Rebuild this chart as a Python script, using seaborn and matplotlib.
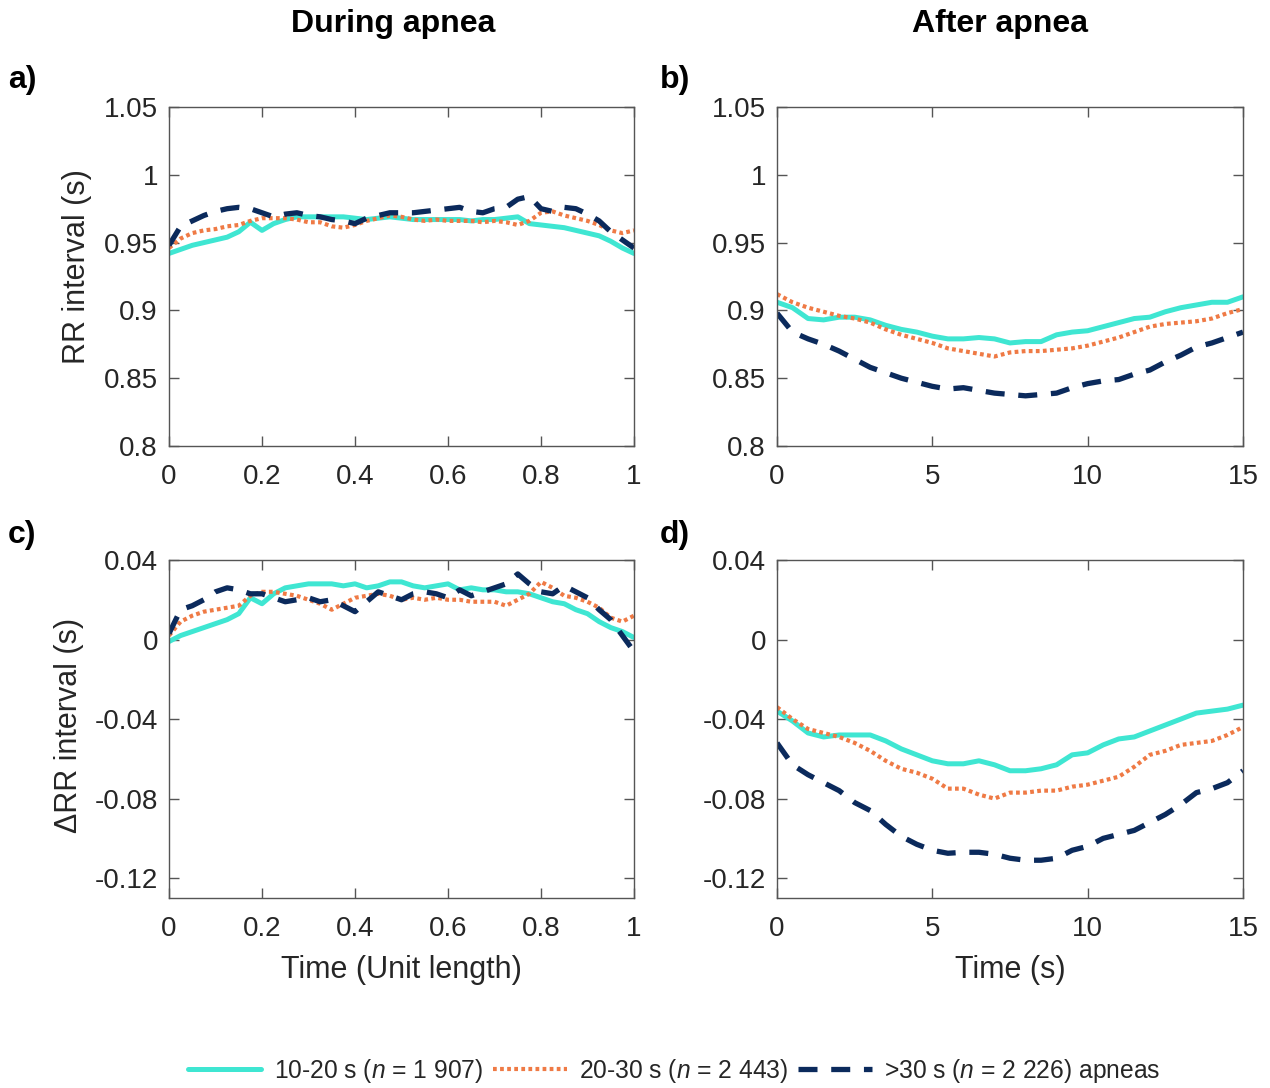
import numpy as np
import pandas as pd
import matplotlib
matplotlib.use("Agg")
import matplotlib.pyplot as plt
import seaborn as sns

# ---------------------------------------------------------------- data
# Normalised time during apnea (unit length) and time after apnea (s)
t_during = np.round(np.arange(0, 1.0001, 0.025), 3)
t_after = np.arange(0, 15.01, 0.5)

# a) RR interval during apnea (s)
rr_during_short = [0.942, 0.945, 0.948, 0.950, 0.952, 0.954, 0.958, 0.965, 0.959, 0.964,
                   0.967, 0.969, 0.969, 0.969, 0.969, 0.969, 0.968, 0.967, 0.968, 0.969,
                   0.968, 0.967, 0.967, 0.967, 0.967, 0.967, 0.966, 0.967, 0.967, 0.968,
                   0.969, 0.964, 0.963, 0.962, 0.961, 0.959, 0.957, 0.955, 0.951, 0.946,
                   0.942]
rr_during_mid = [0.946, 0.953, 0.957, 0.959, 0.960, 0.962, 0.963, 0.966, 0.968, 0.968,
                 0.968, 0.967, 0.965, 0.965, 0.962, 0.961, 0.963, 0.966, 0.968, 0.970,
                 0.969, 0.967, 0.966, 0.967, 0.966, 0.966, 0.966, 0.965, 0.966, 0.965,
                 0.963, 0.966, 0.972, 0.973, 0.970, 0.968, 0.966, 0.963, 0.959, 0.957,
                 0.959]
rr_during_long = [0.948, 0.962, 0.966, 0.970, 0.973, 0.975, 0.976, 0.975, 0.972, 0.969,
                  0.971, 0.972, 0.970, 0.969, 0.967, 0.966, 0.964, 0.968, 0.970, 0.972,
                  0.972, 0.972, 0.973, 0.974, 0.975, 0.976, 0.973, 0.972, 0.975, 0.976,
                  0.982, 0.984, 0.975, 0.973, 0.976, 0.975, 0.971, 0.966, 0.958, 0.952,
                  0.946]

# b) RR interval after apnea (s)
rr_after_short = [0.906, 0.902, 0.894, 0.893, 0.895, 0.895, 0.893, 0.889, 0.886, 0.884,
                  0.881, 0.879, 0.879, 0.880, 0.879, 0.876, 0.877, 0.877, 0.882, 0.884,
                  0.885, 0.888, 0.891, 0.894, 0.895, 0.899, 0.902, 0.904, 0.906, 0.906,
                  0.910]
rr_after_mid = [0.912, 0.906, 0.902, 0.899, 0.896, 0.894, 0.891, 0.886, 0.882, 0.879,
                0.876, 0.872, 0.870, 0.868, 0.866, 0.869, 0.870, 0.870, 0.871, 0.872,
                0.874, 0.877, 0.880, 0.884, 0.888, 0.890, 0.891, 0.892, 0.894, 0.898,
                0.901]
rr_after_long = [0.898, 0.884, 0.879, 0.875, 0.870, 0.864, 0.858, 0.854, 0.850, 0.847,
                 0.844, 0.842, 0.843, 0.841, 0.839, 0.838, 0.837, 0.838, 0.839, 0.843,
                 0.846, 0.848, 0.849, 0.853, 0.856, 0.862, 0.867, 0.873, 0.876, 0.880,
                 0.884]

# c) Change in RR interval during apnea (s)
drr_during_short = [-0.001, 0.002, 0.004, 0.006, 0.008, 0.010, 0.013, 0.021, 0.018, 0.023,
                    0.026, 0.027, 0.028, 0.028, 0.028, 0.027, 0.028, 0.026, 0.027, 0.029,
                    0.029, 0.027, 0.026, 0.027, 0.028, 0.025, 0.026, 0.025, 0.025, 0.024,
                    0.024, 0.023, 0.021, 0.019, 0.018, 0.015, 0.013, 0.009, 0.006, 0.004,
                    0.001]
drr_during_mid = [0.002, 0.009, 0.012, 0.014, 0.015, 0.016, 0.017, 0.022, 0.024, 0.024,
                  0.023, 0.022, 0.020, 0.018, 0.015, 0.018, 0.021, 0.022, 0.023, 0.022,
                  0.020, 0.021, 0.020, 0.021, 0.020, 0.020, 0.019, 0.019, 0.019, 0.017,
                  0.020, 0.023, 0.029, 0.026, 0.022, 0.021, 0.019, 0.016, 0.011, 0.009,
                  0.012]
drr_during_long = [0.003, 0.015, 0.017, 0.020, 0.024, 0.026, 0.025, 0.023, 0.023, 0.021,
                   0.019, 0.020, 0.021, 0.019, 0.020, 0.017, 0.014, 0.019, 0.024, 0.022,
                   0.020, 0.023, 0.024, 0.023, 0.021, 0.025, 0.022, 0.024, 0.026, 0.028,
                   0.033, 0.028, 0.024, 0.023, 0.027, 0.024, 0.021, 0.015, 0.010, 0.002,
                   -0.006]

# d) Change in RR interval after apnea (s)
drr_after_short = [-0.036, -0.041, -0.047, -0.049, -0.048, -0.048, -0.048, -0.051, -0.055, -0.058,
                   -0.061, -0.0625, -0.0625, -0.061, -0.063, -0.066, -0.066, -0.065, -0.063, -0.058,
                   -0.057, -0.053, -0.050, -0.049, -0.046, -0.043, -0.040, -0.037, -0.036, -0.035,
                   -0.033]
drr_after_mid = [-0.034, -0.040, -0.045, -0.047, -0.049, -0.052, -0.056, -0.061, -0.065, -0.067,
                 -0.070, -0.075, -0.075, -0.078, -0.080, -0.077, -0.077, -0.076, -0.076, -0.074,
                 -0.073, -0.071, -0.069, -0.064, -0.058, -0.056, -0.053, -0.052, -0.051, -0.048,
                 -0.044]
drr_after_long = [-0.052, -0.063, -0.068, -0.072, -0.076, -0.082, -0.086, -0.093, -0.099, -0.103,
                  -0.106, -0.1075, -0.107, -0.107, -0.108, -0.110, -0.111, -0.111, -0.110, -0.106,
                  -0.104, -0.100, -0.098, -0.096, -0.092, -0.088, -0.083, -0.077, -0.075, -0.072,
                  -0.066]

group_labels = ["10-20 s ($\\mathit{n}$ = 1 907)",
                "20-30 s ($\\mathit{n}$ = 2 443)",
                ">30 s ($\\mathit{n}$ = 2 226) apneas"]

# ---------------------------------------------------------------- style
sns.set_theme(style="ticks")
plt.rcParams["font.family"] = ["Liberation Sans", "DejaVu Sans"]
plt.rcParams["mathtext.fontset"] = "custom"
plt.rcParams["mathtext.rm"] = "Liberation Sans"
plt.rcParams["mathtext.it"] = "Liberation Sans:italic"
plt.rcParams["mathtext.bf"] = "Liberation Sans:bold"

line_styles = [
    dict(color="#3fe6d2", linestyle="-", lw=3.6),
    dict(color="#ef7a45", linestyle=(0, (0.9, 0.8)), lw=3.0),
    dict(color="#0b2a5c", linestyle=(0, (3.6, 2.6)), lw=3.8),
]

fig = plt.figure(figsize=(12.7, 10.88), dpi=100)
W, H = 1270, 1088


def add_axes(x0, y0, x1, y1):
    return fig.add_axes([x0 / W, 1 - y1 / H, (x1 - x0) / W, (y1 - y0) / H])


ax_a = add_axes(169, 107, 634, 446)
ax_b = add_axes(777, 107, 1243, 446)
ax_c = add_axes(169, 560, 634, 898)
ax_d = add_axes(777, 560, 1243, 898)

panels = [
    (ax_a, t_during, [rr_during_short, rr_during_mid, rr_during_long]),
    (ax_b, t_after, [rr_after_short, rr_after_mid, rr_after_long]),
    (ax_c, t_during, [drr_during_short, drr_during_mid, drr_during_long]),
    (ax_d, t_after, [drr_after_short, drr_after_mid, drr_after_long]),
]

for ax, t, series in panels:
    for vals, lab, st in zip(series, group_labels, line_styles):
        df = pd.DataFrame({"time": t, "value": vals})
        sns.lineplot(data=df, x="time", y="value", ax=ax, label=lab,
                     errorbar=None, legend=False, **st)

spine_col = "#555555"
text_col = "#262626"
for ax in (ax_a, ax_b, ax_c, ax_d):
    for sp in ax.spines.values():
        sp.set_visible(True)
        sp.set_color(spine_col)
        sp.set_linewidth(1.0)
    ax.tick_params(axis="both", which="both", direction="in", top=True, right=True,
                   length=7, width=1.0, color=spine_col, labelsize=20,
                   labelcolor=text_col)
    ax.tick_params(axis="x", pad=13)
    ax.tick_params(axis="y", pad=8)
    ax.set_xlabel("")
    ax.set_ylabel("")

for ax in (ax_a, ax_c):
    ax.set_xlim(0, 1)
    ax.set_xticks([0, 0.2, 0.4, 0.6, 0.8, 1])
    ax.set_xticklabels(["0", "0.2", "0.4", "0.6", "0.8", "1"])
for ax in (ax_b, ax_d):
    ax.set_xlim(0, 15)
    ax.set_xticks([0, 5, 10, 15])
for ax in (ax_a, ax_b):
    ax.set_ylim(0.8, 1.05)
    ax.set_yticks([0.8, 0.85, 0.9, 0.95, 1.0, 1.05])
    ax.set_yticklabels(["0.8", "0.85", "0.9", "0.95", "1", "1.05"])
for ax in (ax_c, ax_d):
    ax.set_ylim(-0.13, 0.04)
    ax.set_yticks([-0.12, -0.08, -0.04, 0, 0.04])
    ax.set_yticklabels(["-0.12", "-0.08", "-0.04", "0", "0.04"])

label_kw = dict(fontsize=22, color=text_col)
ax_a.set_ylabel("RR interval (s)", **label_kw)
ax_a.yaxis.set_label_coords(-0.166, 0.53)
ax_c.set_ylabel("\u0394RR interval (s)", **label_kw)
ax_c.yaxis.set_label_coords(-0.183, 0.51)
ax_c.set_xlabel("Time (Unit length)", **label_kw)
ax_c.xaxis.set_label_coords(0.5, -0.168)
ax_d.set_xlabel("Time (s)", **label_kw)
ax_d.xaxis.set_label_coords(0.5, -0.168)

# Column headings and panel letters
fig.text(393 / W, 1 - 24 / H, "During apnea", ha="center", va="center",
         fontsize=23, fontweight="bold", color="black")
fig.text(1000 / W, 1 - 24 / H, "After apnea", ha="center", va="center",
         fontsize=23, fontweight="bold", color="black")
for letter, (px, py) in zip(["a)", "b)", "c)", "d)"],
                            [(8, 80), (660, 80), (8, 535), (660, 535)]):
    fig.text(px / W, 1 - py / H, letter, ha="left", va="center",
             fontsize=23, fontweight="bold", color="black")

handles = ax_a.get_lines()[:3]
fig.legend(handles, group_labels, loc="center", bbox_to_anchor=(674 / W, 1 - 1071 / H),
           ncol=3, frameon=False, fontsize=17.7, handlelength=3.0,
           handletextpad=0.5, columnspacing=0.4, labelcolor=text_col)

fig.savefig("out.png", dpi=100, facecolor="white")
